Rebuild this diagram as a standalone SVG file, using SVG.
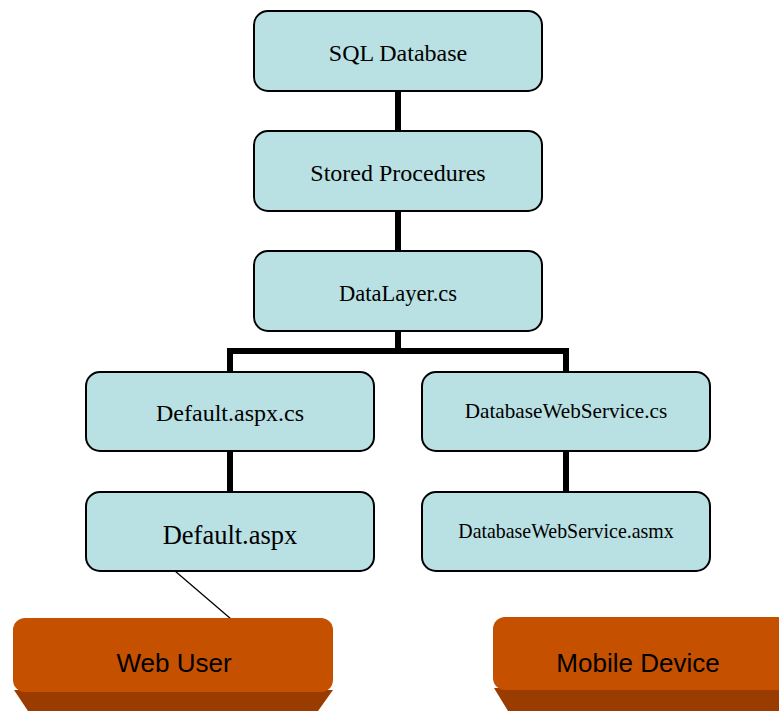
<svg xmlns="http://www.w3.org/2000/svg" width="779" height="711" viewBox="0 0 779 711">
  <style>
    .box { fill: #B9E0E3; stroke: #000; stroke-width: 2; }
    .lbl { font-family: "Liberation Serif", "Times New Roman", serif; fill: #000; text-anchor: middle; }
    .wire { fill: none; stroke: #000; stroke-width: 6; }
    .thin { fill: none; stroke: #000; stroke-width: 1.3; }
    .face { fill: #C55000; }
    .base { fill: #9A3C00; }
    .ulbl { font-family: "Liberation Sans", Arial, sans-serif; font-size: 26px; fill: #000; text-anchor: middle; }
  </style>

  <!-- connectors -->
  <g id="connectors">
    <line class="wire" x1="398" y1="91" x2="398" y2="131"/>
    <line class="wire" x1="398" y1="211" x2="398" y2="251"/>
    <polyline class="wire" points="398,331 398,351"/>
    <polyline class="wire" points="230,372 230,351 566,351 566,372"/>
    <line class="wire" x1="230" y1="451" x2="230" y2="492"/>
    <line class="wire" x1="566" y1="451" x2="566" y2="492"/>
    <line class="thin" x1="175" y1="571" x2="231" y2="619"/>
  </g>

  <g id="sql-database">
    <rect class="box" x="254" y="11" width="288" height="80" rx="14"/>
    <text class="lbl" x="398" y="61" font-size="24">SQL Database</text>
  </g>
  <g id="stored-procedures">
    <rect class="box" x="254" y="131" width="288" height="80" rx="14"/>
    <text class="lbl" x="398" y="181" font-size="24">Stored Procedures</text>
  </g>
  <g id="datalayer">
    <rect class="box" x="254" y="251" width="288" height="80" rx="14"/>
    <text class="lbl" x="398" y="301" font-size="22.5">DataLayer.cs</text>
  </g>
  <g id="default-aspx-cs">
    <rect class="box" x="86" y="372" width="288" height="79" rx="14"/>
    <text class="lbl" x="230" y="421" font-size="24">Default.aspx.cs</text>
  </g>
  <g id="default-aspx">
    <rect class="box" x="86" y="492" width="288" height="79" rx="14"/>
    <text class="lbl" x="230" y="544" font-size="26.5">Default.aspx</text>
  </g>
  <g id="webservice-cs">
    <rect class="box" x="422" y="372" width="288" height="79" rx="14"/>
    <text class="lbl" x="566" y="418" font-size="21.2">DatabaseWebService.cs</text>
  </g>
  <g id="webservice-asmx">
    <rect class="box" x="422" y="492" width="288" height="79" rx="14"/>
    <text class="lbl" x="566" y="538" font-size="19.9">DatabaseWebService.asmx</text>
  </g>

  <g id="web-user">
    <path class="base" d="M14,690 L333,690 L318,711 L28,711 Z"/>
    <rect class="face" x="13" y="618" width="320" height="74" rx="12"/>
    <text class="ulbl" x="174" y="672">Web User</text>
  </g>
  <g id="mobile-device">
    <path class="base" d="M494,688 L779,688 L779,711 L508,711 Z"/>
    <rect class="face" x="493" y="617" width="298" height="73" rx="12"/>
    <text class="ulbl" x="638" y="672">Mobile Device</text>
  </g>
</svg>
